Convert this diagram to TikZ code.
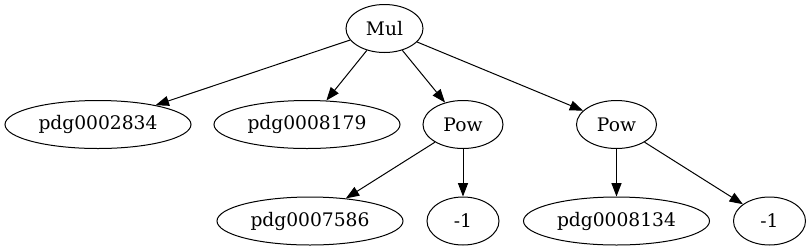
\documentclass[tikz,border=0pt]{standalone}
\usepackage{fontspec}
\setmainfont{DejaVu Serif}
\usetikzlibrary{shapes.geometric,arrows.meta}
\begin{document}
\begin{tikzpicture}[x=0.75pt,y=-0.75pt,
  vnode/.style={draw, ellipse, line width=0.75pt, inner sep=0pt, minimum height=36pt, font=\fontsize{14pt}{16pt}\selectfont},
  wide/.style={vnode, minimum width=139.5pt},
  edge/.style={line width=0.75pt, -{Triangle[length=10pt,width=7.5pt]}}]
\useasboundingbox (0,0) rectangle (811,251);
\node[vnode, minimum width=57.75pt] (mul) at (384.5,28.5) {Mul};
\node[wide] (a) at (98,124.5) {pdg0002834};
\node[wide] (b) at (307,124.5) {pdg0008179};
\node[vnode, minimum width=60pt] (p1) at (463,124.5) {Pow};
\node[vnode, minimum width=60pt] (p2) at (616.5,124.5) {Pow};
\node[wide] (c) at (310,221) {pdg0007586};
\node[vnode, minimum width=54pt] (m1) at (463,221) {-1};
\node[wide] (d) at (616.5,221) {pdg0008134};
\node[vnode, minimum width=54pt] (m2) at (769.5,221) {-1};
\draw[edge] (mul) -- (a);
\draw[edge] (mul) -- (b);
\draw[edge] (mul) -- (p1);
\draw[edge] (mul) -- (p2);
\draw[edge] (p1) -- (c);
\draw[edge] (p1) -- (m1);
\draw[edge] (p2) -- (d);
\draw[edge] (p2) -- (m2);
\end{tikzpicture}
\end{document}
